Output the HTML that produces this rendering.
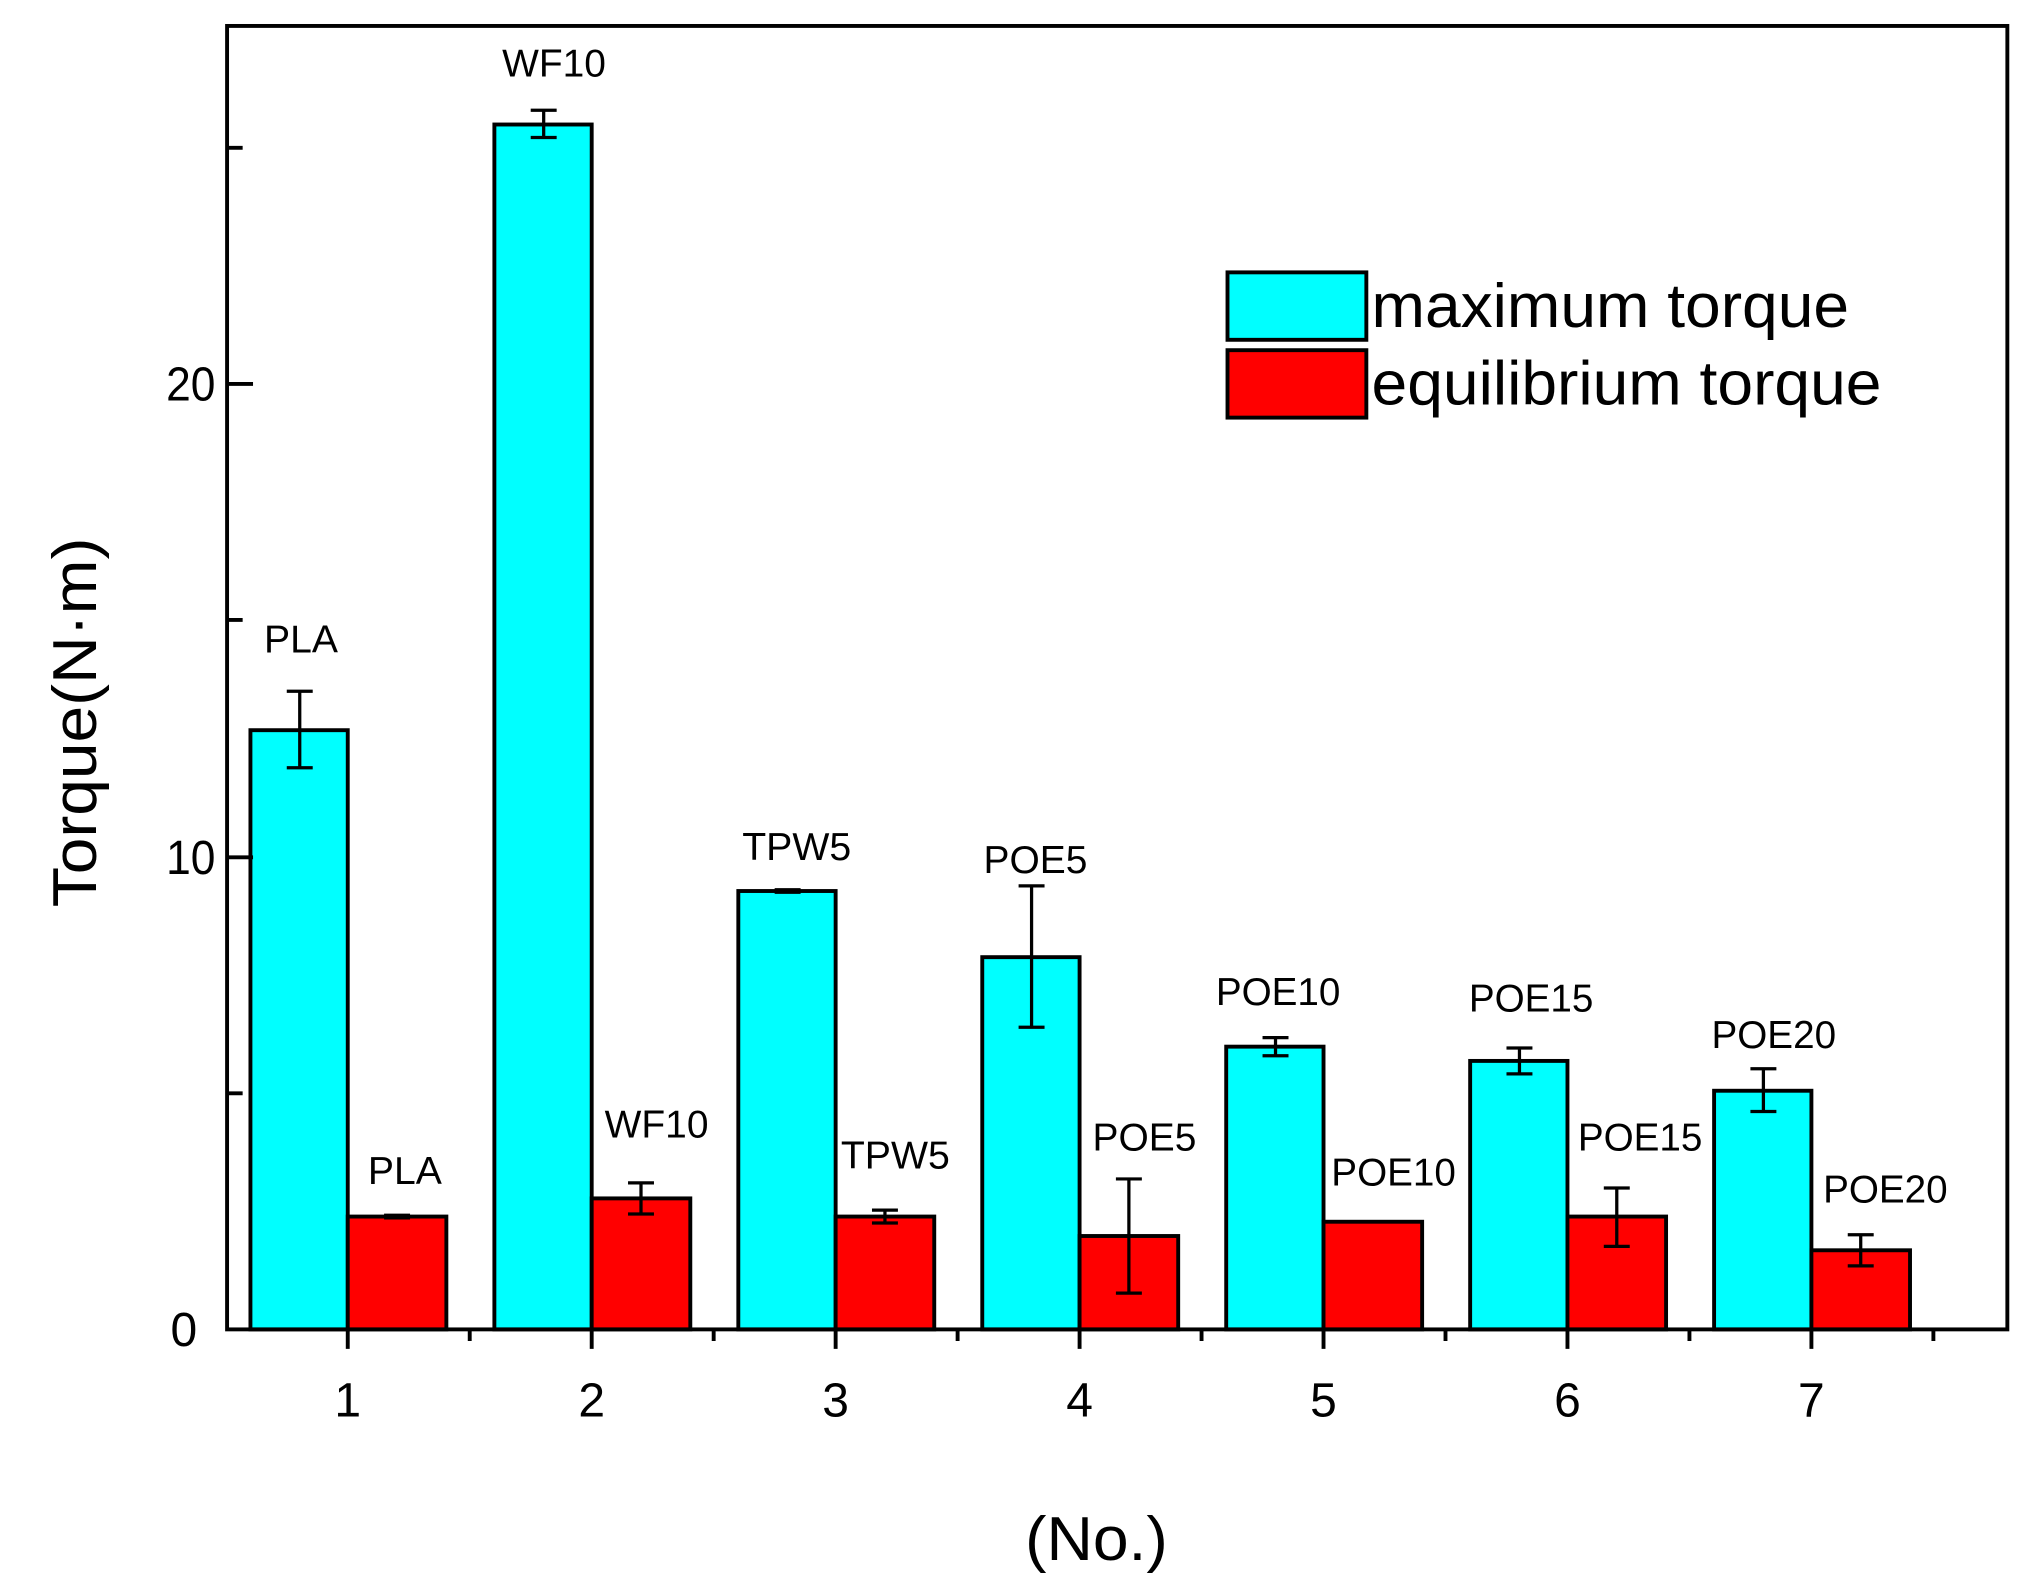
<!DOCTYPE html>
<html><head><meta charset="utf-8"><style>html,body{margin:0;padding:0;background:#fff}svg{display:block}</style></head>
<body>
<svg width="2032" height="1581" viewBox="0 0 1566 1219" preserveAspectRatio="none" xmlns="http://www.w3.org/2000/svg" font-family="Liberation Sans, Arial, sans-serif">
<rect width="1566" height="1219" fill="#fff"/>
<g stroke="#000" stroke-width="3">
<rect x="193" y="563" width="75" height="462" fill="#00ffff"/>
<rect x="381" y="96" width="75" height="929" fill="#00ffff"/>
<rect x="569" y="687" width="75" height="338" fill="#00ffff"/>
<rect x="757" y="738" width="75" height="287" fill="#00ffff"/>
<rect x="945" y="807" width="75" height="218" fill="#00ffff"/>
<rect x="1133" y="818" width="75" height="207" fill="#00ffff"/>
<rect x="1321" y="841" width="75" height="184" fill="#00ffff"/>
<rect x="268" y="938" width="76" height="87" fill="#ff0000"/>
<rect x="456" y="924" width="76" height="101" fill="#ff0000"/>
<rect x="644" y="938" width="76" height="87" fill="#ff0000"/>
<rect x="832" y="953" width="76" height="72" fill="#ff0000"/>
<rect x="1020" y="942" width="76" height="83" fill="#ff0000"/>
<rect x="1208" y="938" width="76" height="87" fill="#ff0000"/>
<rect x="1396" y="964" width="76" height="61" fill="#ff0000"/>
</g>
<g stroke="#000" stroke-width="2.5" fill="none">
<path d="M231 533V592M221 533H241M221 592H241"/>
<path d="M419 85V106M409 85H429M409 106H429"/>
<path d="M607 686V688M597 686H617M597 688H617"/>
<path d="M795 683V792M785 683H805M785 792H805"/>
<path d="M983 800V814M973 800H993M973 814H993"/>
<path d="M1171 808V828M1161 808H1181M1161 828H1181"/>
<path d="M1359 824V857M1349 824H1369M1349 857H1369"/>
<path d="M306 937V939M296 937H316M296 939H316"/>
<path d="M494 912V936M484 912H504M484 936H504"/>
<path d="M682 933V943M672 933H692M672 943H692"/>
<path d="M870 909V997M860 909H880M860 997H880"/>
<path d="M1058 941V943"/>
<path d="M1246 916V961M1236 916H1256M1236 961H1256"/>
<path d="M1434 952V976M1424 952H1444M1424 976H1444"/>
</g>
<rect x="175" y="20" width="1372" height="1005" fill="none" stroke="#000" stroke-width="3"/>
<g stroke="#000" stroke-width="3">
<path d="M175 296H195M175 661H195M175 843H187M175 478H187M175 114H187"/>
<path d="M268 1025V1040M456 1025V1040M644 1025V1040M832 1025V1040M1020 1025V1040M1208 1025V1040M1396 1025V1040"/>
<path d="M362 1025V1034M550 1025V1034M738 1025V1034M926 1025V1034M1114 1025V1034M1302 1025V1034M1490 1025V1034"/>
</g>
<g font-size="37" text-anchor="end">
<text x="166" y="309" textLength="38" lengthAdjust="spacingAndGlyphs">20</text><text x="166" y="674" textLength="38" lengthAdjust="spacingAndGlyphs">10</text><text x="152" y="1038">0</text>
</g>
<g font-size="37" text-anchor="middle">
<text x="268" y="1092">1</text><text x="456" y="1092">2</text><text x="644" y="1092">3</text><text x="832" y="1092">4</text><text x="1020" y="1092">5</text><text x="1208" y="1092">6</text><text x="1396" y="1092">7</text>
</g>
<g font-size="30" text-anchor="middle" lengthAdjust="spacingAndGlyphs">
<text x="232" y="503" textLength="57" lengthAdjust="spacingAndGlyphs">PLA</text>
<text x="427" y="59" textLength="80" lengthAdjust="spacingAndGlyphs">WF10</text>
<text x="614" y="663" textLength="84" lengthAdjust="spacingAndGlyphs">TPW5</text>
<text x="798" y="673" textLength="80" lengthAdjust="spacingAndGlyphs">POE5</text>
<text x="985" y="775" textLength="96" lengthAdjust="spacingAndGlyphs">POE10</text>
<text x="1180" y="780" textLength="96" lengthAdjust="spacingAndGlyphs">POE15</text>
<text x="1367" y="808" textLength="96" lengthAdjust="spacingAndGlyphs">POE20</text>
<text x="312" y="913" textLength="57" lengthAdjust="spacingAndGlyphs">PLA</text>
<text x="506" y="877" textLength="80" lengthAdjust="spacingAndGlyphs">WF10</text>
<text x="690" y="901" textLength="84" lengthAdjust="spacingAndGlyphs">TPW5</text>
<text x="882" y="887" textLength="80" lengthAdjust="spacingAndGlyphs">POE5</text>
<text x="1074" y="914" textLength="96" lengthAdjust="spacingAndGlyphs">POE10</text>
<text x="1264" y="887" textLength="96" lengthAdjust="spacingAndGlyphs">POE15</text>
<text x="1453" y="927" textLength="96" lengthAdjust="spacingAndGlyphs">POE20</text>
</g>
<rect x="946" y="210" width="107" height="52" fill="#00ffff" stroke="#000" stroke-width="3"/>
<rect x="946" y="270" width="107" height="52" fill="#ff0000" stroke="#000" stroke-width="3"/>
<text x="1057" y="252" font-size="48" textLength="368" lengthAdjust="spacingAndGlyphs">maximum torque</text>
<text x="1057" y="312" font-size="48" textLength="393" lengthAdjust="spacingAndGlyphs">equilibrium torque</text>
<text transform="translate(74,557) rotate(-90)" font-size="48" text-anchor="middle" textLength="285" lengthAdjust="spacingAndGlyphs">Torque(N·m)</text>
<text x="845" y="1203" font-size="48" text-anchor="middle" textLength="110" lengthAdjust="spacingAndGlyphs">(No.)</text>
</svg>
</body></html>
